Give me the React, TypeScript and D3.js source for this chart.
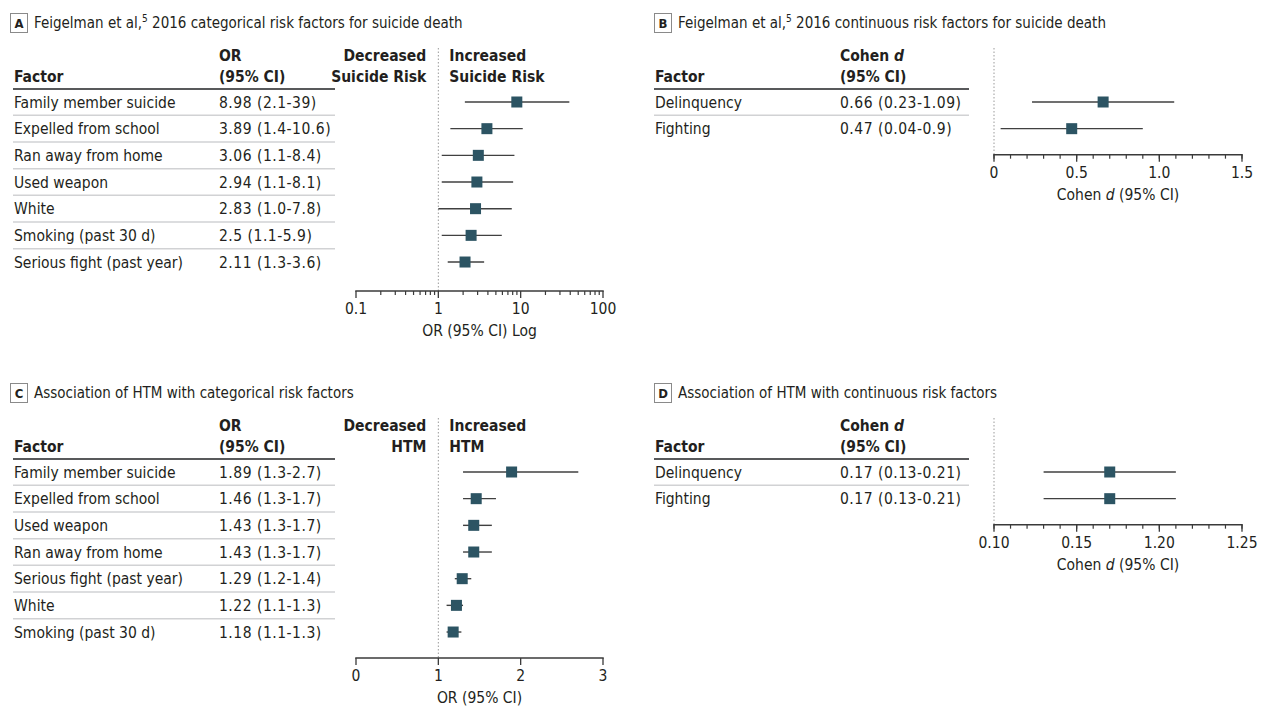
import React from "react";
import * as d3 from "d3";

// ---------- DATA ----------
const factorsA = [
  "Family member suicide",
  "Expelled from school",
  "Ran away from home",
  "Used weapon",
  "White",
  "Smoking (past 30 d)",
  "Serious fight (past year)",
];
const estA = [8.98, 3.89, 3.06, 2.94, 2.83, 2.5, 2.11];
const lowA = [2.1, 1.4, 1.1, 1.1, 1.0, 1.1, 1.3];
const highA = [39, 10.6, 8.4, 8.1, 7.8, 5.9, 3.6];
const textA = ["8.98 (2.1-39)", "3.89 (1.4-10.6)", "3.06 (1.1-8.4)", "2.94 (1.1-8.1)", "2.83 (1.0-7.8)", "2.5 (1.1-5.9)", "2.11 (1.3-3.6)"];
const ticksA = [0.1, 1, 10, 100];
const tickLabelsA = ["0.1", "1", "10", "100"];

const factorsB = ["Delinquency", "Fighting"];
const estB = [0.66, 0.47];
const lowB = [0.23, 0.04];
const highB = [1.09, 0.9];
const textB = ["0.66 (0.23-1.09)", "0.47 (0.04-0.9)"];
const ticksB = [0, 0.5, 1.0, 1.5];
const tickLabelsB = ["0", "0.5", "1.0", "1.5"];

const factorsC = [
  "Family member suicide",
  "Expelled from school",
  "Used weapon",
  "Ran away from home",
  "Serious fight (past year)",
  "White",
  "Smoking (past 30 d)",
];
const estC = [1.89, 1.46, 1.43, 1.43, 1.29, 1.22, 1.18];
const lowC = [1.3, 1.3, 1.3, 1.3, 1.2, 1.1, 1.1];
const highC = [2.7, 1.7, 1.65, 1.65, 1.4, 1.3, 1.28];
const textC = ["1.89 (1.3-2.7)", "1.46 (1.3-1.7)", "1.43 (1.3-1.7)", "1.43 (1.3-1.7)", "1.29 (1.2-1.4)", "1.22 (1.1-1.3)", "1.18 (1.1-1.3)"];
const ticksC = [0, 1, 2, 3];
const tickLabelsC = ["0", "1", "2", "3"];

const factorsD = ["Delinquency", "Fighting"];
const estD = [0.17, 0.17];
const lowD = [0.13, 0.13];
const highD = [0.21, 0.21];
const textD = ["0.17 (0.13-0.21)", "0.17 (0.13-0.21)"];
const ticksD = [0.1, 0.15, 0.2, 0.25];
const tickLabelsD = ["0.10", "0.15", "1.20", "1.25"];

// ---------- STYLE ----------
const FONT = "'DejaVu Sans Condensed', 'Liberation Sans Narrow', sans-serif";
const TXT = "#231f20";
const MARK = "#2c5463";
const FS = 15.5;
const AX = "#3a3a3a";

type PanelProps = {
  letter: string;
  title: React.ReactNode;
  x0: number;
  y0: number;
  factorX: number;
  valX: number;
  valHead1: React.ReactNode;
  tableRight: number;
  factors: string[];
  texts: string[];
  est: number[];
  low: number[];
  high: number[];
  scale: any;
  refVal: number;
  ticks: number[];
  tickLabels: string[];
  minorTicks: number[];
  axisTitle: React.ReactNode;
  axisGap: number;
  decLabel?: string[];
  incLabel?: string[];
};

function Panel(p: PanelProps) {
  const headerLine = p.y0 + 89;
  const pitch = 26.67;
  const rowY = (i: number) => headerLine + 13 + i * pitch;
  const [r0, r1] = p.scale.range();
  const refX = p.scale(p.refVal);
  const axisY = rowY(p.factors.length - 1) + p.axisGap;
  return (
    <g>
      <rect x={p.x0 + 0.5} y={p.y0 + 13.5} width={17} height={19} fill="#fff" stroke="#8a8a8a" strokeWidth={1} />
      <text x={p.x0 + 9} y={p.y0 + 28} textAnchor="middle" fontWeight="bold" fontSize={13} fill={TXT}>
        {p.letter}
      </text>
      <text x={p.x0 + 24} y={p.y0 + 28} fontSize={15} fill={TXT}>
        {p.title}
      </text>
      <text x={p.factorX} y={p.y0 + 82} fontWeight="bold" fontSize={FS} fill={TXT}>Factor</text>
      <text x={p.valX} y={p.y0 + 61} fontWeight="bold" fontSize={FS} fill={TXT}>{p.valHead1}</text>
      <text x={p.valX} y={p.y0 + 82} fontWeight="bold" fontSize={FS} fill={TXT}>(95% CI)</text>
      {p.decLabel && (
        <g fontWeight="bold" fontSize={FS} fill={TXT}>
          <text x={refX - 12} y={p.y0 + 61} textAnchor="end">{p.decLabel[0]}</text>
          <text x={refX - 12} y={p.y0 + 82} textAnchor="end">{p.decLabel[1]}</text>
          <text x={refX + 11} y={p.y0 + 61}>{p.incLabel![0]}</text>
          <text x={refX + 11} y={p.y0 + 82}>{p.incLabel![1]}</text>
        </g>
      )}
      <line x1={p.factorX - 1} x2={p.tableRight} y1={headerLine} y2={headerLine} stroke="#58595b" strokeWidth={2} />
      {p.factors.map((f, i) => (
        <g key={i}>
          <text x={p.factorX} y={rowY(i) + 5.5} fontSize={FS} fill={TXT}>{f}</text>
          <text x={p.valX} y={rowY(i) + 5.5} fontSize={FS} fill={TXT} letterSpacing={0.5}>{p.texts[i]}</text>
          {i < p.factors.length - 1 && (
            <line x1={p.factorX - 1} x2={p.tableRight} y1={rowY(i) + pitch / 2} y2={rowY(i) + pitch / 2} stroke="#d1d2d4" strokeWidth={1.5} />
          )}
        </g>
      ))}
      <line x1={refX} x2={refX} y1={p.y0 + 48} y2={axisY} stroke="#9a9a9a" strokeWidth={1} strokeDasharray="1.5,2" />
      {p.factors.map((f, i) => (
        <g key={"m" + i}>
          <line x1={p.scale(p.low[i])} x2={p.scale(p.high[i])} y1={rowY(i)} y2={rowY(i)} stroke="#404040" strokeWidth={1.4} />
          <rect x={p.scale(p.est[i]) - 5.5} y={rowY(i) - 5.5} width={11} height={11} fill={MARK} />
        </g>
      ))}
      <line x1={r0 - 0.75} x2={r1 + 0.75} y1={axisY} y2={axisY} stroke={AX} strokeWidth={1.5} />
      {p.minorTicks.map((t, i) => (
        <line key={"mt" + i} x1={p.scale(t)} x2={p.scale(t)} y1={axisY} y2={axisY + 4} stroke={AX} strokeWidth={1.2} />
      ))}
      {p.ticks.map((t, i) => (
        <g key={"t" + i}>
          <line x1={p.scale(t)} x2={p.scale(t)} y1={axisY} y2={axisY + 7} stroke={AX} strokeWidth={1.3} />
          <text x={p.scale(t)} y={axisY + 23} textAnchor="middle" fontSize={FS} fill={TXT}>{p.tickLabels[i]}</text>
        </g>
      ))}
      <text x={(r0 + r1) / 2} y={axisY + 45} textAnchor="middle" fontSize={FS} fill={TXT}>{p.axisTitle}</text>
    </g>
  );
}

export default function App() {
  const xA = d3.scaleLog().domain([0.1, 100]).range([356, 603]);
  const xC = d3.scaleLinear().domain([0, 3]).range([356, 603]);
  const xB = d3.scaleLinear().domain([0, 1.5]).range([994, 1242]);
  const xD = d3.scaleLinear().domain([0.1, 0.25]).range([994, 1242]);

  const minorA: number[] = [];
  [0.1, 1, 10].forEach((d) => {
    for (let k = 2; k <= 9; k++) minorA.push(d * k);
  });
  const minorB = d3.range(0, 16).map((i) => i * 0.1);
  const minorD = d3.range(0, 16).map((i) => 0.1 + i * 0.01);

  const sup = (
    <tspan>
      Feigelman et al,<tspan dy={-6} fontSize={10}>5</tspan>
      <tspan dy={6}> 2016 </tspan>
    </tspan>
  );

  return (
    <svg width={1265} height={707} style={{ position: "absolute", left: 0, top: 0, fontFamily: FONT }}>
      <rect width={1265} height={707} fill="#fff" />
      <Panel
        letter="A"
        title={<>{sup}categorical risk factors for suicide death</>}
        x0={10}
        y0={0}
        factorX={14}
        valX={219}
        valHead1="OR"
        tableRight={335}
        factors={factorsA}
        texts={textA}
        est={estA}
        low={lowA}
        high={highA}
        scale={xA}
        refVal={1}
        ticks={ticksA}
        tickLabels={tickLabelsA}
        minorTicks={minorA}
        axisTitle="OR (95% CI) Log"
        axisGap={29}
        decLabel={["Decreased", "Suicide Risk"]}
        incLabel={["Increased", "Suicide Risk"]}
      />
      <Panel
        letter="B"
        title={<>{sup}continuous risk factors for suicide death</>}
        x0={654}
        y0={0}
        factorX={655}
        valX={840}
        valHead1={<>Cohen <tspan fontStyle="italic">d</tspan></>}
        tableRight={969}
        factors={factorsB}
        texts={textB}
        est={estB}
        low={lowB}
        high={highB}
        scale={xB}
        refVal={0}
        ticks={ticksB}
        tickLabels={tickLabelsB}
        minorTicks={minorB}
        axisTitle={<>Cohen <tspan fontStyle="italic">d</tspan> (95% CI)</>}
        axisGap={26}
      />
      <Panel
        letter="C"
        title="Association of HTM with categorical risk factors"
        x0={10}
        y0={370}
        factorX={14}
        valX={219}
        valHead1="OR"
        tableRight={335}
        factors={factorsC}
        texts={textC}
        est={estC}
        low={lowC}
        high={highC}
        scale={xC}
        refVal={1}
        ticks={ticksC}
        tickLabels={tickLabelsC}
        minorTicks={[]}
        axisTitle="OR (95% CI)"
        axisGap={26}
        decLabel={["Decreased", "HTM"]}
        incLabel={["Increased", "HTM"]}
      />
      <Panel
        letter="D"
        title="Association of HTM with continuous risk factors"
        x0={654}
        y0={370}
        factorX={655}
        valX={840}
        valHead1={<>Cohen <tspan fontStyle="italic">d</tspan></>}
        tableRight={969}
        factors={factorsD}
        texts={textD}
        est={estD}
        low={lowD}
        high={highD}
        scale={xD}
        refVal={0.1}
        ticks={ticksD}
        tickLabels={tickLabelsD}
        minorTicks={minorD}
        axisTitle={<>Cohen <tspan fontStyle="italic">d</tspan> (95% CI)</>}
        axisGap={26}
      />
    </svg>
  );
}
